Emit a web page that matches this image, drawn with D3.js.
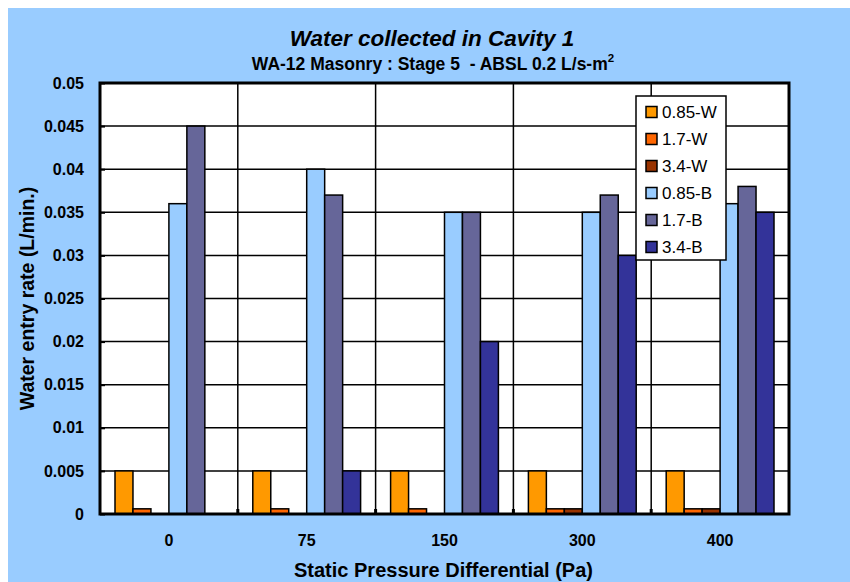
<!DOCTYPE html>
<html>
<head>
<meta charset="utf-8">
<script src="https://cdn.jsdelivr.net/npm/d3@7"></script>
<style>
  body { margin: 0; background: #fff; }
  svg { display: block; font-family: "Liberation Sans", Arial, sans-serif; }
</style>
</head>
<body>
<div id="chart"></div>
<script>
var categories = ["0", "75", "150", "300", "400"];
var seriesNames = ["0.85-W", "1.7-W", "3.4-W", "0.85-B", "1.7-B", "3.4-B"];
var seriesColors = ["#FF9900", "#FF6600", "#993300", "#99CCFF", "#666699", "#333399"];
var w085 = [0.005, 0.005, 0.005, 0.005, 0.005];
var w17  = [0.0006, 0.0006, 0.0006, 0.0006, 0.0006];
var w34  = [0, 0, 0, 0.0006, 0.0006];
var b085 = [0.036, 0.040, 0.035, 0.035, 0.036];
var b17  = [0.045, 0.037, 0.035, 0.037, 0.038];
var b34  = [0, 0.005, 0.020, 0.030, 0.035];
var yTicks = [0, 0.005, 0.01, 0.015, 0.02, 0.025, 0.03, 0.035, 0.04, 0.045, 0.05];

var seriesValues = [w085, w17, w34, b085, b17, b34];

var W = 850, H = 582;
var margin = {top: 83, right: 61, bottom: 68, left: 100};
var width = W - margin.left - margin.right;
var height = H - margin.top - margin.bottom;

var svg = d3.select("#chart").append("svg")
    .attr("width", W)
    .attr("height", H);

svg.append("rect")
    .attr("x", 8).attr("y", 8)
    .attr("width", W - 8).attr("height", H - 8)
    .attr("fill", "#99CCFF");

svg.append("text")
    .attr("x", 432).attr("y", 46)
    .attr("text-anchor", "middle")
    .style("font-size", "22.5px")
    .style("font-weight", "bold")
    .style("font-style", "italic")
    .text("Water collected in Cavity 1");

var sub = svg.append("text")
    .attr("x", 433).attr("y", 70)
    .attr("text-anchor", "middle")
    .style("font-size", "17.5px")
    .style("font-weight", "bold")
    .attr("xml:space", "preserve");
sub.append("tspan").text("WA-12 Masonry : Stage 5  - ABSL 0.2 L/s-m");
sub.append("tspan").attr("dy", -8).style("font-size", "11.5px").text("2");

var g = svg.append("g")
    .attr("transform", "translate(" + margin.left + "," + margin.top + ")");

var x = d3.scaleBand().domain(categories).range([0, width]).padding(0);
var xs = d3.scaleBand().domain(seriesNames).range([15, x.bandwidth() - 15]).padding(0);
var y = d3.scaleLinear().domain([0, 0.05]).range([height, 0]);

g.append("rect")
    .attr("width", width).attr("height", height)
    .attr("fill", "#fff");

// horizontal grid
g.append("g")
    .selectAll("line")
    .data(yTicks.slice(1, -1))
    .enter().append("line")
    .attr("x1", 0).attr("x2", width)
    .attr("y1", function(d) { return y(d); })
    .attr("y2", function(d) { return y(d); })
    .attr("stroke", "#000").attr("stroke-width", 1.5);

// vertical grid at category boundaries
g.append("g")
    .selectAll("line")
    .data(categories.slice(1))
    .enter().append("line")
    .attr("x1", function(d) { return x(d); })
    .attr("x2", function(d) { return x(d); })
    .attr("y1", 0).attr("y2", height)
    .attr("stroke", "#000").attr("stroke-width", 1.5);

seriesNames.forEach(function(name, si) {
    var data = categories.map(function(c, ci) { return {cat: c, value: seriesValues[si][ci]}; })
        .filter(function(d) { return d.value > 0; });
    g.append("g")
        .selectAll("rect")
        .data(data)
        .enter().append("rect")
        .attr("x", function(d) { return x(d.cat) + xs(name); })
        .attr("y", function(d) { return y(d.value); })
        .attr("width", xs.bandwidth())
        .attr("height", function(d) { return height - y(d.value); })
        .attr("fill", seriesColors[si])
        .attr("stroke", "#000")
        .attr("stroke-width", 1.5);
});

// plot frame
g.append("rect")
    .attr("width", width).attr("height", height)
    .attr("fill", "none")
    .attr("stroke", "#000").attr("stroke-width", 3);

// y axis
var yAxis = g.append("g")
    .call(d3.axisLeft(y).tickValues(yTicks).tickSize(-5).tickPadding(16)
        .tickFormat(function(d) { return d3.format("")(+d.toFixed(3)); }));
yAxis.select(".domain").remove();
yAxis.selectAll("line").attr("stroke-width", 2);
yAxis.selectAll("text")
    .style("font-size", "16px")
    .style("font-weight", "bold")
    .attr("fill", "#000");

// x axis
var xAxis = g.append("g")
    .attr("transform", "translate(0," + height + ")")
    .call(d3.axisBottom(x).tickSize(0).tickPadding(21));
xAxis.select(".domain").remove();
xAxis.selectAll("text")
    .style("font-size", "16px")
    .style("font-weight", "bold")
    .attr("fill", "#000");

g.append("g")
    .selectAll("line")
    .data(categories.slice(1))
    .enter().append("line")
    .attr("x1", function(d) { return x(d); })
    .attr("x2", function(d) { return x(d); })
    .attr("y1", height).attr("y2", height - 5)
    .attr("stroke", "#000").attr("stroke-width", 3);

svg.append("text")
    .attr("x", margin.left + width / 2 - 1).attr("y", 577)
    .attr("text-anchor", "middle")
    .style("font-size", "20px")
    .style("font-weight", "bold")
    .text("Static Pressure Differential (Pa)");

svg.append("text")
    .attr("transform", "translate(34," + (margin.top + height / 2) + ") rotate(-90)")
    .attr("text-anchor", "middle")
    .style("font-size", "19.5px")
    .style("font-weight", "bold")
    .text("Water entry rate (L/min.)");

// legend
var legend = svg.append("g").attr("transform", "translate(636,96)");
legend.append("rect")
    .attr("width", 90).attr("height", 164)
    .attr("fill", "#fff")
    .attr("stroke", "#000").attr("stroke-width", 1.5);
var item = legend.selectAll(".item")
    .data(seriesNames)
    .enter().append("g")
    .attr("transform", function(d, i) { return "translate(0," + (16 + i * 27) + ")"; });
item.append("rect")
    .attr("x", 10).attr("y", -5.5)
    .attr("width", 11).attr("height", 11)
    .attr("fill", function(d, i) { return seriesColors[i]; })
    .attr("stroke", "#000").attr("stroke-width", 1.5);
item.append("text")
    .attr("x", 26).attr("y", 6)
    .style("font-size", "17px")
    .text(function(d) { return d; });
</script>
</body>
</html>
